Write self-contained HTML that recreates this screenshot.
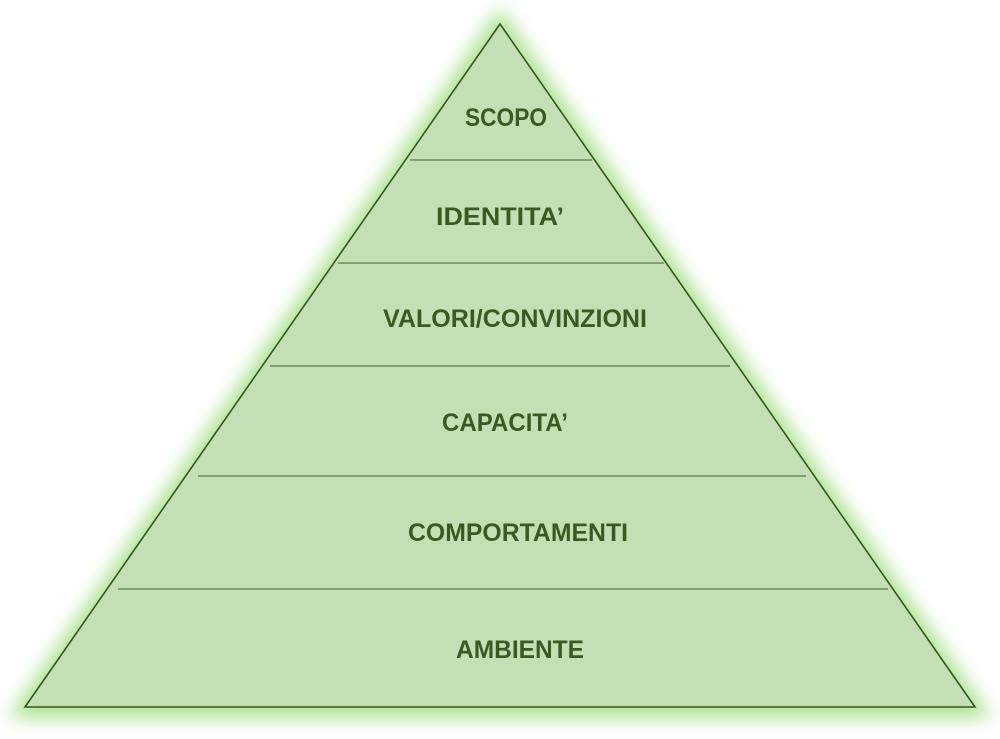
<!DOCTYPE html>
<html><head><style>html,body{margin:0;padding:0;background:#fff;}svg{display:block}</style></head>
<body>
<svg width="1000" height="739" viewBox="0 0 1000 739" xmlns="http://www.w3.org/2000/svg">
<defs>
<filter id="g" x="-10%" y="-10%" width="120%" height="120%"><feGaussianBlur stdDeviation="9"/></filter>
</defs>
<polygon points="500,8 8,718 992,718" fill="#aee291" filter="url(#g)"/>
<polygon points="500,24 25,707 975,707" fill="#c5dfb4" stroke="#2f5a1a" stroke-width="1.6"/>
<g stroke="#5e7b48" stroke-width="1.2">
<line x1="410" y1="160" x2="592" y2="160"/>
<line x1="338" y1="263" x2="664" y2="263"/>
<line x1="270" y1="366" x2="730" y2="366"/>
<line x1="198" y1="476" x2="806" y2="476"/>
<line x1="118" y1="589" x2="888" y2="589"/>
</g>
<g font-family="Liberation Sans, sans-serif" font-weight="bold" font-size="25" fill="#3b5a22" text-anchor="middle">
<text x="506" y="126" textLength="82" lengthAdjust="spacingAndGlyphs">SCOPO</text>
<text x="500" y="225" textLength="128" lengthAdjust="spacingAndGlyphs">IDENTITA’</text>
<text x="515" y="327" textLength="264" lengthAdjust="spacingAndGlyphs">VALORI/CONVINZIONI</text>
<text x="505" y="431" textLength="126" lengthAdjust="spacingAndGlyphs">CAPACITA’</text>
<text x="518" y="541" textLength="220" lengthAdjust="spacingAndGlyphs">COMPORTAMENTI</text>
<text x="520" y="658" textLength="128" lengthAdjust="spacingAndGlyphs">AMBIENTE</text>
</g>
</svg>
</body></html>
